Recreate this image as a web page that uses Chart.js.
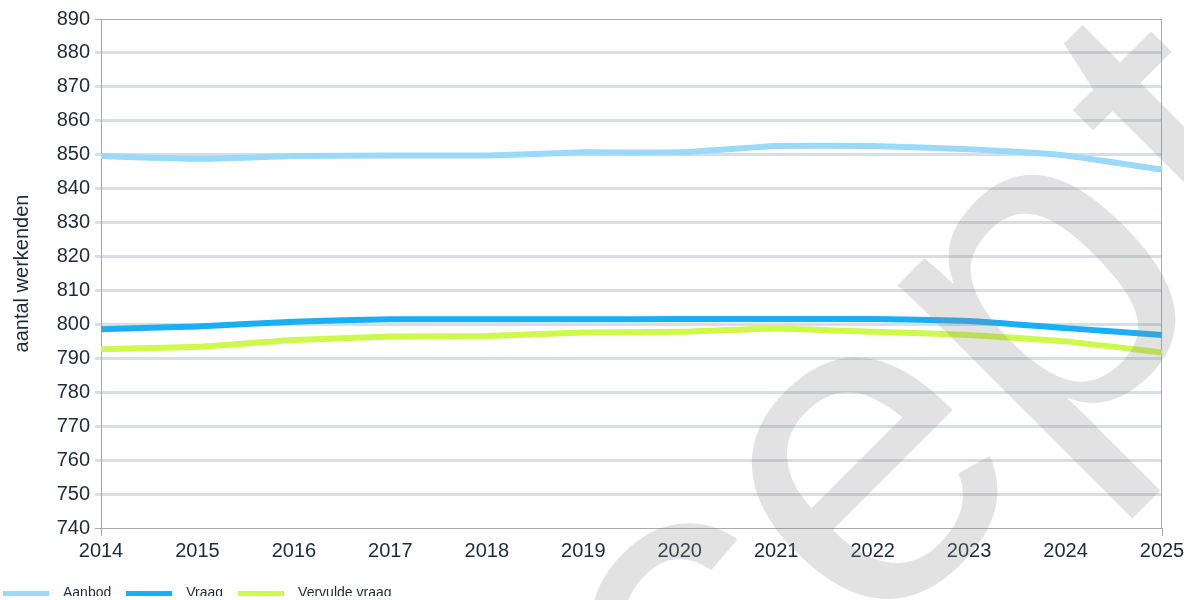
<!DOCTYPE html>
<html lang="nl">
<head>
<meta charset="utf-8">
<title>Aanbod en vraag werkenden 2014-2025</title>
<script src="https://cdn.jsdelivr.net/npm/chart.js@4.4.1/dist/chart.umd.min.js"></script>
<style>
  html, body { margin: 0; padding: 0; background: #fff; }
  #wrap { width: 1184px; height: 600px; position: relative; }
</style>
</head>
<body>
<div id="wrap"><canvas id="chart"></canvas></div>
<script>
const years = ["2014", "2015", "2016", "2017", "2018", "2019", "2020", "2021", "2022", "2023", "2024", "2025"];
const aanbod = [849.6, 848.8, 849.6, 849.8, 849.8, 850.7, 850.7, 852.6, 852.6, 851.6, 849.8, 845.6];
const vraag = [798.6, 799.4, 800.8, 801.5, 801.5, 801.5, 801.6, 801.6, 801.6, 801.0, 798.9, 796.9];
const vervuldeVraag = [792.7, 793.4, 795.4, 796.4, 796.6, 797.6, 797.8, 798.8, 797.8, 796.9, 795.0, 791.7];
const yMin = 740;
const yMax = 890;
const yStep = 10;

const FONT = '"Liberation Sans", Arial, sans-serif';
const TEXT = '#1c2a3b';
const AXIS = '#a9a9a9';
const GRID = '#d6dfe4';

// flat swatch used as the legend marker
function swatch(color) {
  const c = document.createElement('canvas');
  c.width = 46;
  c.height = 5;
  const g = c.getContext('2d');
  g.fillStyle = color;
  g.fillRect(0, 0, c.width, c.height);
  return c;
}

// thin frame around the plot area (top and right edges)
const frame = {
  id: 'frame',
  beforeDatasetsDraw(chart) {
    const { ctx, chartArea: a } = chart;
    ctx.save();
    ctx.strokeStyle = AXIS;
    ctx.lineWidth = 1;
    ctx.strokeRect(a.left + 0.5, a.top + 0.5, a.right - a.left - 1, a.bottom - a.top);
    ctx.restore();
  }
};

// legend sits flush at the bottom-left corner
const legendPlacement = {
  id: 'legendPlacement',
  afterLayout(chart) {
    chart.legend.left = -12;
    chart.legend.top = 578;
  }
};

// large translucent word stamped across the chart
const watermark = {
  id: 'watermark',
  afterDraw(chart) {
    const ctx = chart.ctx;
    const size = 450;
    ctx.save();
    ctx.font = size + 'px "Liberation Sans", Arial, sans-serif';
    ctx.fillStyle = 'rgba(140,140,140,0.25)';
    const lead = ctx.measureText('conc').width;
    const e = ctx.measureText('e').width;
    ctx.translate(786, 392);
    ctx.rotate(-Math.PI / 4);
    ctx.fillText('concep', -(lead + e / 2), size * 0.26);
    // the final letter sits a little further out
    ctx.fillText('t', -(lead + e / 2) + ctx.measureText('concep').width + 20, size * 0.26);
    ctx.restore();
  }
};

new Chart(document.getElementById('chart'), {
  type: 'line',
  data: {
    labels: years,
    datasets: [
      { label: 'Aanbod', data: aanbod, borderColor: '#9bd9fb', backgroundColor: '#9bd9fb' },
      { label: 'Vraag', data: vraag, borderColor: '#1aaff5', backgroundColor: '#1aaff5' },
      { label: 'Vervulde vraag', data: vervuldeVraag, borderColor: '#cdf94a', backgroundColor: '#cdf94a' }
    ]
  },
  options: {
    animation: false,
    responsive: true,
    maintainAspectRatio: false,
    datasets: {
      line: { borderWidth: 6, pointRadius: 0, tension: 0.15, fill: false }
    },
    layout: { padding: { top: 19, right: 22, left: 0, bottom: 4 } },
    scales: {
      x: {
        offset: false,
        grid: {
          drawOnChartArea: false,
          tickLength: 8,
          color: (c) => (c.index === 0 || c.index === years.length - 1) ? AXIS : 'transparent'
        },
        border: { color: AXIS, width: 1 },
        ticks: { color: TEXT, font: { family: FONT, size: 20 }, padding: 3, maxRotation: 0, autoSkip: false },
        afterFit(scale) {
          scale.height = 36;
          scale.paddingRight = 0;
        }
      },
      y: {
        min: yMin,
        max: yMax,
        grid: {
          tickLength: 6,
          lineWidth: (c) => (c.tick && (c.tick.value === yMin || c.tick.value === yMax)) ? 1 : 3,
          color: (c) => (c.tick && (c.tick.value === yMin || c.tick.value === yMax)) ? AXIS : GRID
        },
        border: { color: AXIS, width: 1 },
        ticks: { stepSize: yStep, color: TEXT, font: { family: FONT, size: 20 }, padding: 5 },
        title: {
          display: true,
          text: 'aantal werkenden',
          color: TEXT,
          font: { family: FONT, size: 20 },
          padding: { top: 10, bottom: 0 }
        },
        afterFit(scale) { scale.width = 101; }
      }
    },
    plugins: {
      tooltip: { enabled: false },
      legend: {
        position: 'bottom',
        align: 'start',
        labels: {
          usePointStyle: true,
          pointStyleWidth: 60,
          boxHeight: 5,
          padding: 8,
          color: TEXT,
          font: { family: FONT, size: 14 },
          generateLabels: (chart) => Chart.defaults.plugins.legend.labels.generateLabels(chart)
            .map((item) => ({ ...item, lineWidth: 0, pointStyle: swatch(item.strokeStyle) }))
        }
      }
    }
  },
  plugins: [frame, legendPlacement, watermark]
});
</script>
</body>
</html>
